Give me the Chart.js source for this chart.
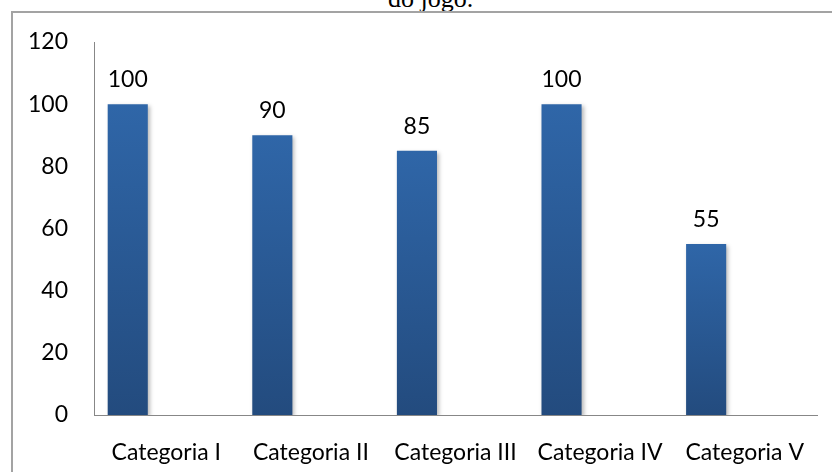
<!DOCTYPE html>
<html>
<head>
<meta charset="utf-8">
<script src="https://cdn.jsdelivr.net/npm/chart.js@4.4.1/dist/chart.umd.min.js"></script>
<style>
  html, body { margin: 0; padding: 0; background: #fff; overflow: hidden; }
  #wrap { position: relative; width: 832px; height: 472px; }
  #frame { position: absolute; left: 11px; top: 11px; width: 900px; height: 600px;
           border-left: 2px solid #a3a3a3; border-top: 2px solid #a3a3a3; }
  #caption { position: absolute; left: 388px; top: -14px; font: 26px/26px "Liberation Serif", serif;
             color: #000; white-space: nowrap; }
  #chartBox { position: absolute; left: 0; top: 0; width: 832px; height: 472px; }
</style>
</head>
<body>
<div id="wrap">
  <div id="caption">do jogo.</div>
  <div id="frame"></div>
  <div id="chartBox"><canvas id="barChart" width="832" height="472"></canvas></div>
</div>
<script>
// dados do gráfico
var categorias = ['Categoria I', 'Categoria II', 'Categoria III', 'Categoria IV', 'Categoria V'];
var serie1 = [100, 90, 85, 100, 55];
// séries vazias (como no modelo do Excel)
var serie2 = [null, null, null, null, null];
var serie3 = [null, null, null, null, null];
var yTicks = [0, 20, 40, 60, 80, 100, 120];

var fonte = { family: 'Lato, "Open Sans", sans-serif', size: 23 };

// degradê por barra, de cima para baixo
function barGradient(context) {
    var chart = context.chart;
    if (!chart.chartArea) return '#2b5f9e';
    var y = chart.scales.y;
    var v = context.raw;
    if (v === null || v === undefined) return '#2b5f9e';
    var top = y.getPixelForValue(v);
    var bottom = y.getPixelForValue(0);
    var g = chart.ctx.createLinearGradient(0, top, 0, bottom);
    g.addColorStop(0, '#2f66a8');
    g.addColorStop(1, '#234b7e');
    return g;
}

// sombra nas barras + rótulos de dados
var barExtras = {
    id: 'barExtras',
    beforeDatasetsDraw: function(chart) {
        var ctx = chart.ctx;
        ctx.save();
        ctx.shadowColor = 'rgba(0, 0, 0, 0.28)';
        ctx.shadowBlur = 4;
        ctx.shadowOffsetX = 2;
        ctx.shadowOffsetY = 2;
    },
    afterDatasetsDraw: function(chart) {
        var ctx = chart.ctx;
        ctx.restore();
        var meta = chart.getDatasetMeta(0);
        ctx.save();
        ctx.fillStyle = '#000';
        ctx.font = fonte.size + 'px ' + fonte.family;
        ctx.textAlign = 'center';
        ctx.textBaseline = 'alphabetic';
        meta.data.forEach(function(bar, i) {
            ctx.fillText(String(serie1[i]), bar.x, bar.y - 17);
        });
        ctx.restore();
    }
};

var ctx = document.getElementById('barChart').getContext('2d');
var barChart = new Chart(ctx, {
    type: 'bar',
    data: {
        labels: categorias,
        datasets: [
            { label: 'Série 1', data: serie1, backgroundColor: barGradient,
              categoryPercentage: 0.8, barPercentage: 1.04 },
            { label: 'Série 2', data: serie2, categoryPercentage: 0.8, barPercentage: 1.04 },
            { label: 'Série 3', data: serie3, categoryPercentage: 0.8, barPercentage: 1.04 }
        ]
    },
    options: {
        responsive: false,
        animation: false,
        layout: { padding: { top: 42, right: 15, left: 0, bottom: 0 } },
        plugins: {
            legend: { display: false },
            tooltip: { enabled: false }
        },
        scales: {
            x: {
                grid: { display: false, drawTicks: false },
                border: { display: true, color: '#878787', width: 1 },
                ticks: { color: '#000', font: fonte, padding: 24, maxRotation: 0, autoSkip: false },
                afterFit: function(scale) { scale.height = 57; }
            },
            y: {
                min: 0,
                max: 120,
                grid: { display: false, drawTicks: false },
                border: { display: true, color: '#878787', width: 1 },
                afterBuildTicks: function(scale) {
                    scale.ticks = yTicks.map(function(v) { return { value: v }; });
                },
                ticks: { color: '#000', font: fonte, padding: 26 },
                afterFit: function(scale) { scale.width = 94; }
            }
        }
    },
    plugins: [barExtras]
});
</script>
</body>
</html>
